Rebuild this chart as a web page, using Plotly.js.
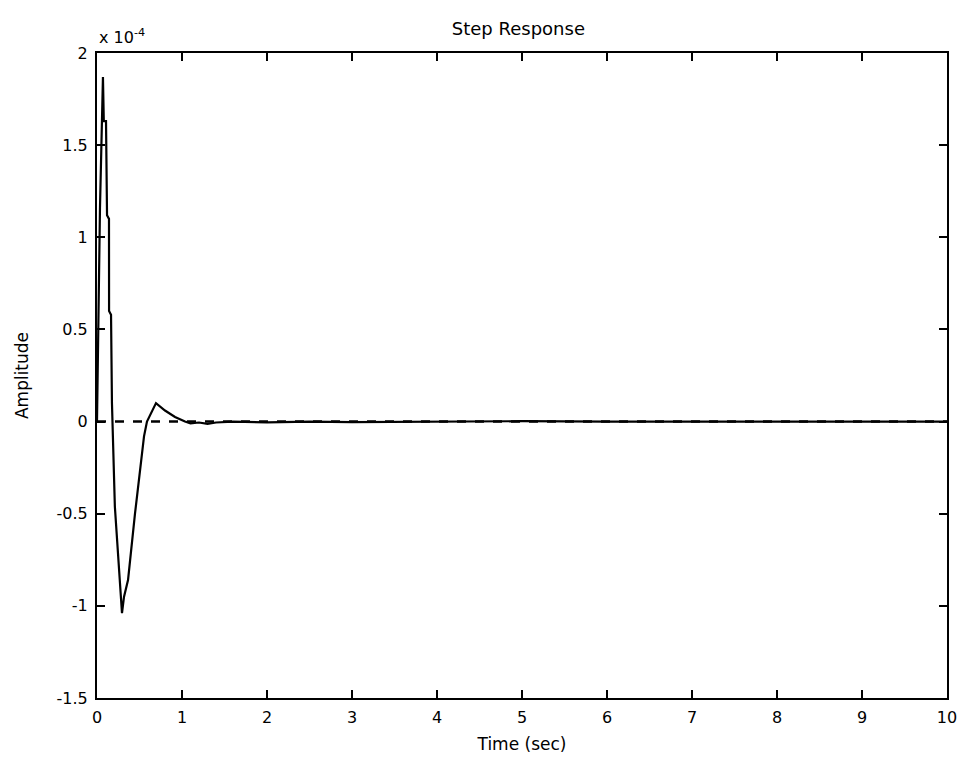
<!DOCTYPE html>
<html>
<head>
<meta charset="utf-8">
<script src="https://cdn.plot.ly/plotly-3.0.1.min.js"></script>
<style>html,body{margin:0;padding:0;background:#fff;}#chart{width:960px;height:767px;}</style>
</head>
<body>
<div id="chart"></div>
<script>
// Time (sec)
const timeSec = [0, 0.024, 0.035, 0.07, 0.08, 0.106, 0.118, 0.141, 0.142, 0.165, 0.176, 0.21, 0.247, 0.282, 0.294, 0.318, 0.365, 0.447, 0.506, 0.553, 0.588, 0.647, 0.694, 0.8, 0.918, 1.035, 1.1, 1.2, 1.3, 1.4, 1.6, 2.0, 2.5, 3.0, 4.0, 5.0, 6.0, 7.0, 8.0, 9.0, 10.0];
// Amplitude (x 1e-4)
const amplitude = [0, 0.7, 1.16, 1.87, 1.63, 1.63, 1.12, 1.1, 0.6, 0.58, 0.1, -0.46, -0.70, -0.91, -1.04, -0.95, -0.86, -0.5, -0.25, -0.08, 0, 0.06, 0.10, 0.06, 0.025, 0.0, -0.01, -0.005, -0.012, -0.005, 0.0, -0.004, 0.0, -0.003, 0.0, 0.002, 0.0, 0.0, 0.0, 0.0, 0.0];
// Steady-state reference line
const refTime = [0, 10];
const refValue = [0, 0];
const xTicks = [0, 1, 2, 3, 4, 5, 6, 7, 8, 9, 10];
const yTicks = [-1.5, -1, -0.5, 0, 0.5, 1, 1.5, 2];
const yTickText = ['-1.5', '-1', '-0.5', '0', '0.5', '1', '1.5', '2'];

const font = 'DejaVu Sans, Verdana, sans-serif';

const traces = [
  {x: refTime, y: refValue, mode: 'lines', line: {color: '#000', width: 2.5, dash: 'dash'}, hoverinfo: 'skip'},
  {x: timeSec, y: amplitude, mode: 'lines', line: {color: '#000', width: 2.2}}
];

const axisCommon = {
  showgrid: false, zeroline: false, showline: true, linecolor: '#000', linewidth: 2,
  mirror: 'ticks', ticks: 'inside', ticklen: 8, tickwidth: 2, tickcolor: '#000',
  tickfont: {family: font, size: 16, color: '#000'}
};

const layout = {
  width: 960, height: 767,
  margin: {l: 97, r: 13, t: 53, b: 69},
  paper_bgcolor: '#fff', plot_bgcolor: '#fff',
  showlegend: false,
  title: {text: 'Step Response', font: {family: font, size: 18, color: '#000'}, x: 0.54, xanchor: 'center', y: 0.962, yanchor: 'middle'},
  xaxis: Object.assign({}, axisCommon, {
    range: [0, 10], tickvals: xTicks, ticktext: xTicks.map(String), ticklabelstandoff: 4,
    title: {text: 'Time (sec)', font: {family: font, size: 17, color: '#000'}, standoff: 12}
  }),
  yaxis: Object.assign({}, axisCommon, {
    range: [-1.5, 2], tickvals: yTicks, ticktext: yTickText, ticklabelstandoff: 4,
    title: {text: 'Amplitude', font: {family: font, size: 17, color: '#000'}, standoff: 24}
  }),
  annotations: [
    {xref: 'paper', yref: 'paper', x: 0, y: 1, xanchor: 'left', yanchor: 'bottom', yshift: 4, showarrow: false,
     text: 'x 10<sup>-4</sup>', font: {family: font, size: 16, color: '#000'}}
  ]
};

Plotly.newPlot('chart', traces, layout, {displayModeBar: false, staticPlot: true});
</script>
</body>
</html>
